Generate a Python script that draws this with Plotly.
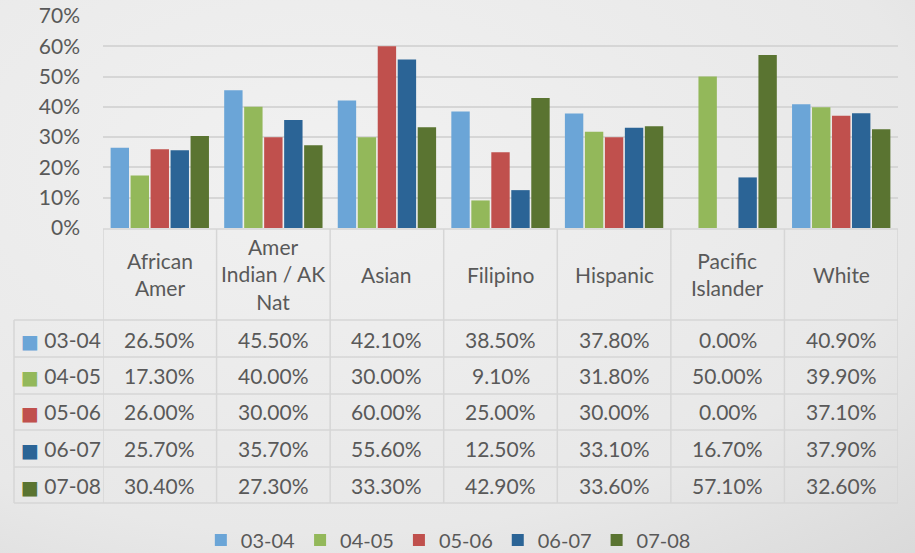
import base64
import plotly.graph_objects as go

categories = ["African Amer", "Amer Indian / AK Nat", "Asian", "Filipino",
              "Hispanic", "Pacific Islander", "White"]
header_labels = ["African<br>Amer", "Amer<br>Indian / AK<br>Nat", "Asian", "Filipino",
                 "Hispanic", "Pacific<br>Islander", "White"]
series_names = ["03-04", "04-05", "05-06", "06-07", "07-08"]
v_03_04 = [26.5, 45.5, 42.1, 38.5, 37.8, 0.0, 40.9]
v_04_05 = [17.3, 40.0, 30.0, 9.1, 31.8, 50.0, 39.9]
v_05_06 = [26.0, 30.0, 60.0, 25.0, 30.0, 0.0, 37.1]
v_06_07 = [25.7, 35.7, 55.6, 12.5, 33.1, 16.7, 37.9]
v_07_08 = [30.4, 27.3, 33.3, 42.9, 33.6, 57.1, 32.6]
series_values = [v_03_04, v_04_05, v_05_06, v_06_07, v_07_08]
colors = ["#6ba5d7", "#93b85a", "#c0504d", "#2b6496", "#5a7431"]
y_ticks = [0, 10, 20, 30, 40, 50, 60, 70]

W, H = 915, 553
FONT = "Lato"
TXT = "#595959"

def px(x):
    return x / W

def py(y):
    return (H - y) / H

fig = go.Figure()
for name, vals, col in zip(series_names, series_values, colors):
    fig.add_trace(go.Bar(
        x=categories, y=[v / 100 for v in vals], name=name,
        marker=dict(color=col, line=dict(width=0)),
    ))

shapes = []
annotations = []

# header labels
for cat, lab in zip(categories, header_labels):
    annotations.append(dict(x=cat, xref="x", y=py(274), yref="paper",
                            text=lab, showarrow=False,
                            font=dict(family=FONT, size=21, color=TXT),
                            xanchor="center", yanchor="middle"))

row_centers = [339, 375, 412, 448, 485]
row_lines = [320, 357, 394, 430, 467, 503]
for name, vals, col, yc in zip(series_names, series_values, colors, row_centers):
    annotations.append(dict(x=px(19), xref="paper", y=py(yc), yref="paper",
                            text=(f"<span style='color:{col};font-size:19px;"
                                  f"font-family:DejaVu Sans'>■</span> {name}"),
                            showarrow=False, xanchor="left", yanchor="middle",
                            font=dict(family=FONT, size=21, color=TXT)))
    for cat, v in zip(categories, vals):
        annotations.append(dict(x=cat, xref="x", y=py(yc), yref="paper",
                                text=f"{v:.2f}%", showarrow=False,
                                xanchor="center", yanchor="middle",
                                font=dict(family=FONT, size=21, color=TXT)))

LINE = dict(color="#d6d6d6", width=1.5)
for yl in row_lines:
    shapes.append(dict(type="line", xref="paper", yref="paper",
                       x0=px(14), x1=px(898), y0=py(yl), y1=py(yl), line=LINE))
shapes.append(dict(type="line", xref="paper", yref="paper",
                   x0=px(103), x1=px(898), y0=py(229), y1=py(229), line=LINE))
for i in range(len(categories) + 1):
    shapes.append(dict(type="line", xref="x", yref="paper",
                       x0=i - 0.5, x1=i - 0.5, y0=py(229), y1=py(503), line=LINE))
shapes.append(dict(type="line", xref="paper", yref="paper",
                   x0=px(14), x1=px(14), y0=py(320), y1=py(503), line=LINE))

svg = ('<svg xmlns="http://www.w3.org/2000/svg" width="915" height="553">'
       '<defs><radialGradient id="g" cx="0.35" cy="0.3" r="0.95">'
       '<stop offset="0" stop-color="#f1f1f1"/><stop offset="0.7" stop-color="#e8e8e8"/>'
       '<stop offset="1" stop-color="#dadada"/></radialGradient></defs>'
       '<rect width="915" height="553" fill="url(#g)"/></svg>')
src = "data:image/svg+xml;base64," + base64.b64encode(svg.encode()).decode()

fig.update_layout(
    width=W, height=H,
    margin=dict(l=0, r=0, t=0, b=0, autoexpand=False),
    paper_bgcolor="#e8e8e8", plot_bgcolor="rgba(0,0,0,0)",
    barmode="group", bargap=0.12, bargroupgap=0.08,
    font=dict(family=FONT, color=TXT),
    images=[dict(source=src, xref="paper", yref="paper", x=0, y=1,
                 sizex=1, sizey=1, sizing="stretch", layer="below",
                 xanchor="left", yanchor="top")],
    xaxis=dict(domain=[px(103), px(898)], range=[-0.5, 6.5],
               showticklabels=False, showgrid=False, zeroline=False,
               showline=False, fixedrange=True),
    yaxis=dict(domain=[py(228), py(16)], range=[0, 0.7],
               tickvals=[t / 100 for t in y_ticks],
               ticktext=[f"{t}%" for t in y_ticks],
               tickfont=dict(family=FONT, size=21, color=TXT),
               showgrid=True, gridcolor="#d6d6d6", gridwidth=2,
               zeroline=False, showline=False, ticklabelstandoff=22),
    legend=dict(orientation="h", x=0.49, xanchor="center", y=py(540),
                yanchor="middle", font=dict(family=FONT, size=20, color=TXT),
                bgcolor="rgba(0,0,0,0)", itemwidth=30, tracegroupgap=0),
    shapes=shapes,
    annotations=annotations,
)

fig.write_html("out.html", config={"displayModeBar": False},
               post_script="document.body.style.margin='0';document.body.style.overflow='hidden';")
